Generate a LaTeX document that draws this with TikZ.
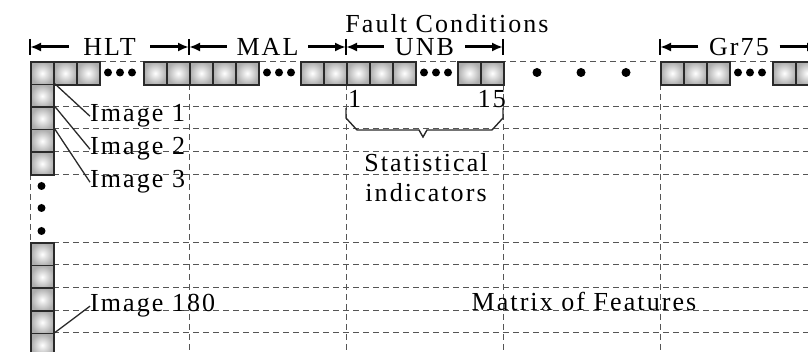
\documentclass[tikz,border=0pt]{standalone}
\usepackage{fontspec}
\setmainfont{Liberation Serif}[LetterSpace=8]
\definecolor{gridgray}{HTML}{555555}
\definecolor{celledge}{HTML}{2A2A2A}
\usetikzlibrary{arrows.meta,positioning,calc}

\tikzset{
  cellbox/.style={draw=celledge, line width=1.6pt, minimum size=23pt, inner sep=0pt,
    anchor=north west, inner color=white, outer color=black!32},
  gridline/.style={gridgray, line width=0.8pt, dash pattern=on 6pt off 4pt},
  dimarrow/.style={line width=3pt, -{Latex[length=11pt,width=9pt]}},
  dimlabel/.style={minimum width=81pt, inner xsep=0pt, inner ysep=1pt},
  imglabel/.style={anchor=base west, inner sep=0pt},
  leader/.style={celledge, line width=1.3pt},
}

\begin{document}
\begin{tikzpicture}[x=1pt, y=-1pt, font=\fontsize{26}{30}\selectfont]
\useasboundingbox (0,0) rectangle (808,352);
\clip (0,0) rectangle (808,352);

% Grid of the matrix
\draw[gridline] (30,61) -- (808,61);
\foreach \y in {106.2,128.8,151.4,174,242,264.7,287.4,310.1,332.8}
  \draw[gridline] (53,\y) -- (808,\y);
\foreach \x in {189,346,503,660}
  \draw[gridline] (\x,84) -- (\x,352);
\draw[gridline] (30,174) -- (30,242);

% Top row of cells
\foreach \x [count=\i] in {30,53,76,143,166,189,212,235,300,323,346,369,392,457,480,660,683,706,772,795}
  \node[cellbox] (t\i) at (\x,61) {};
\foreach \x in {108,120,132,267,279,291,424,436,448,738,750,762}
  \fill (\x,72.5) circle (4);
\foreach \x in {537,581,626}
  \fill (\x,72.5) circle (4.5);

% Column of images
\foreach \y [count=\i] in {83.6,106.2,128.8,151.4,242,264.7,287.4,310.1,332.8}
  \node[cellbox] (c\i) at (30,\y) {};
\foreach \y in {186,208,231}
  \fill (41.5,\y) circle (4);

% Fault conditions
\coordinate (b0) at (30,47);
\coordinate (b1) at (189,47);
\coordinate (b2) at (346,47);
\coordinate (b3) at (503,47);
\coordinate (b4) at (660,47);
\coordinate (b5) at (818,47);
\foreach \b in {b0,b1,b2,b3,b4}
  \draw[line width=1.5pt] (\b) ++(0,-8) -- ++(0,16);
\node[anchor=base, inner sep=1pt] (fault) at (447,33) {Fault Conditions};
\node[dimlabel] (hlt) at ($(b0)!0.5!(b1)$) {HLT};
\node[dimlabel] (mal) at ($(b1)!0.5!(b2)$) {MAL};
\node[dimlabel] (unb) at ($(b2)!0.5!(b3)$) {UNB};
\node[dimlabel] (gr) at ($(b4)!0.5!(b5)$) {Gr75};
\draw[dimarrow] (hlt) -- (b0);
\draw[dimarrow] (hlt) -- (b1);
\draw[dimarrow] (mal) -- (b1);
\draw[dimarrow] (mal) -- (b2);
\draw[dimarrow] (unb) -- (b2);
\draw[dimarrow] (unb) -- (b3);
\draw[dimarrow] (gr) -- (b4);
\draw[dimarrow] (gr) -- (b5);

% Statistical indicators
\node[anchor=base west, inner sep=0pt] (first) at (348,108) {1};
\node[anchor=base east, inner sep=0pt] (last) at (506,108) {15};
\draw[celledge, line width=1.4pt] (346,108) -- (346,118) -- (357,130) -- (419,130)
  -- (423,137) -- (427,130) -- (492,130) -- (503,118) -- (503,108);
\node[align=center, anchor=base] (stat) at (426,202) {Statistical\\indicators};

% Images
\node[imglabel] (img1) at (90,122) {Image 1};
\node[imglabel] (img2) at (90,155) {Image 2};
\node[imglabel] (img3) at (90,188) {Image 3};
\node[imglabel] (img180) at (90,312) {Image 180};
\draw[leader] (c1.north east) -- (img1.west);
\draw[leader] (c2.north east) -- (img2.west);
\draw[leader] (c3.north east) -- (img3.west);
\draw[leader] (c9.north east) -- (img180.west);

\node[anchor=base] (mof) at (584,311) {Matrix of Features};
\end{tikzpicture}
\end{document}
